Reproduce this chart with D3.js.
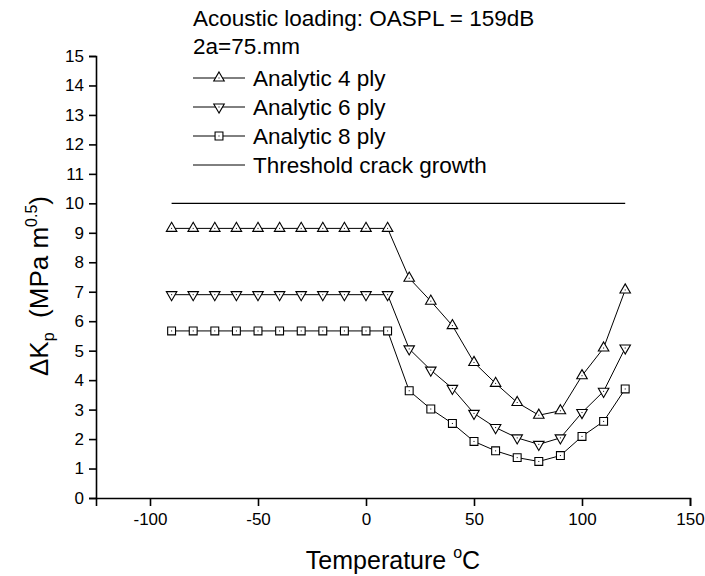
<!DOCTYPE html>
<html>
<head>
<meta charset="utf-8">
<script src="https://cdn.jsdelivr.net/npm/d3@7"></script>
<style>
	body { margin: 0; background: #fff; }
	svg { display: block; font-family: Arial, "Liberation Sans", sans-serif; }
</style>
</head>
<body>
<div id="chart"></div>
<script>

// DATA

const temps = [-90, -80, -70, -60, -50, -40, -30, -20, -10, 0, 10, 20, 30, 40, 50, 60, 70, 80, 90, 100, 110, 120];

const ply4 = [9.15, 9.15, 9.15, 9.15, 9.15, 9.15, 9.15, 9.15, 9.15, 9.15, 9.15, 7.46, 6.68, 5.85, 4.60, 3.89, 3.24, 2.81, 2.96, 4.15, 5.09, 7.06],
			ply6 = [6.90, 6.90, 6.90, 6.90, 6.90, 6.90, 6.90, 6.90, 6.90, 6.90, 6.90, 5.06, 4.34, 3.72, 2.87, 2.39, 2.04, 1.82, 2.04, 2.90, 3.62, 5.09],
			ply8 = [5.67, 5.67, 5.67, 5.67, 5.67, 5.67, 5.67, 5.67, 5.67, 5.67, 5.67, 3.64, 3.02, 2.53, 1.92, 1.60, 1.37, 1.24, 1.44, 2.09, 2.60, 3.70];

const thresholdTemps = [-90, 120],
			thresholdValues = [10, 10];

const xTicks = [-100, -50, 0, 50, 100, 150],
			yTicks = [0, 1, 2, 3, 4, 5, 6, 7, 8, 9, 10, 11, 12, 13, 14, 15];

const seriesNames = ['Analytic 4 ply', 'Analytic 6 ply', 'Analytic 8 ply'],
			headerLines = ['Acoustic loading: OASPL = 159dB', '2a=75.mm'];

// GRAPH

const width = 705,
			height = 576,
			margin = { top: 56, right: 15, bottom: 78, left: 96 };

const x = d3.scaleLinear().domain([-125, 150]).range([margin.left, width - margin.right]),
			y = d3.scaleLinear().domain([0, 15]).range([height - margin.bottom, margin.top]);

const svg = d3.select('#chart')
	.append('svg')
	.attr('width', width)
	.attr('height', height);

// axes
const xAxis = svg.append('g')
	.attr('transform', `translate(0,${y(0)})`);

xAxis.call(
	d3.axisBottom(x)
		.tickValues(d3.range(-125, 151, 25))
		.tickFormat('')
		.tickSizeOuter(0)
		.tickSize(5)
);

xAxis.call(
	d3.axisBottom(x)
		.tickValues(xTicks)
		.tickFormat(d => String(d))
		.tickSizeOuter(0)
		.tickSize(8)
		.tickPadding(7)
);

const yAxis = svg.append('g')
	.attr('transform', `translate(${x(-125)},0)`);

yAxis.call(
	d3.axisLeft(y)
		.tickValues(d3.range(0, 15.01, 0.5))
		.tickFormat('')
		.tickSizeOuter(0)
		.tickSize(4)
);

yAxis.call(
	d3.axisLeft(y)
		.tickValues(yTicks)
		.tickFormat(d => String(d))
		.tickSizeOuter(0)
		.tickSize(7)
		.tickPadding(5)
);

svg.selectAll('.domain, .tick line')
	.attr('stroke', '#000')
	.attr('stroke-width', 1.6);

svg.selectAll('.tick text')
	.attr('fill', '#000')
	.style('font-size', '17px');

// axis titles
const xTitle = svg.append('text')
	.attr('x', (x.range()[0] + x.range()[1]) / 2)
	.attr('y', 569)
	.attr('text-anchor', 'middle')
	.style('font-size', '25px');

xTitle.append('tspan').text('Temperature ');
xTitle.append('tspan').attr('dy', -11).style('font-size', '16px').text('o');
xTitle.append('tspan').attr('dy', 11).text('C');

const yTitle = svg.append('text')
	.attr('transform', 'translate(48,286) rotate(-90)')
	.attr('text-anchor', 'middle')
	.attr('xml:space', 'preserve')
	.style('font-size', '26px');

yTitle.append('tspan').text('ΔK');
yTitle.append('tspan').attr('dy', 6).style('font-size', '16px').text('p');
yTitle.append('tspan').attr('dy', -6).text('  (MPa m');
yTitle.append('tspan').attr('dy', -11).style('font-size', '16px').text('0.5');
yTitle.append('tspan').attr('dy', 11).text(')');

// markers
const symbols = [
	{ type: d3.symbolTriangle, rotate: 0, size: 48 },
	{ type: d3.symbolTriangle, rotate: 180, size: 48 },
	{ type: d3.symbolSquare, rotate: 0, size: 62 }
];

const drawMarker = (g, s) => {
	g.append('path')
		.attr('d', d3.symbol().type(s.type).size(s.size)())
		.attr('transform', `rotate(${s.rotate})`)
		.attr('fill', '#fff')
		.attr('stroke', '#000')
		.attr('stroke-width', 1.1);
	g.append('rect')
		.attr('x', -0.5)
		.attr('y', -0.5)
		.attr('width', 1)
		.attr('height', 1)
		.attr('fill', '#000');
};

const line = d3.line()
	.x(d => x(d[0]))
	.y(d => y(d[1]));

const series = [ply4, ply6, ply8];

series.forEach((values, i) => {

	const pts = d3.zip(temps, values);

	svg.append('path')
		.datum(pts)
		.attr('d', line)
		.attr('fill', 'none')
		.attr('stroke', '#000')
		.attr('stroke-width', 1);

	svg.append('g')
		.selectAll('g')
		.data(pts)
		.join('g')
		.attr('transform', d => `translate(${x(d[0])},${y(d[1])})`)
		.each(function () { drawMarker(d3.select(this), symbols[i]); });

});

// threshold
svg.append('path')
	.datum(d3.zip(thresholdTemps, thresholdValues))
	.attr('d', line)
	.attr('fill', 'none')
	.attr('stroke', '#000')
	.attr('stroke-width', 1.2);

// legend
const legendX = 193,
			legendW = 52,
			rowBase = [26, 54, 86, 115, 144, 173];

headerLines.forEach((t, i) => {
	svg.append('text')
		.attr('x', legendX)
		.attr('y', rowBase[i])
		.style('font-size', '22.5px')
		.text(t);
});

const legendItems = seriesNames.concat(['Threshold crack growth']);

legendItems.forEach((t, i) => {

	const base = rowBase[i + 2],
				cy = base - 8;

	svg.append('line')
		.attr('x1', legendX)
		.attr('x2', legendX + legendW)
		.attr('y1', cy)
		.attr('y2', cy)
		.attr('stroke', '#000')
		.attr('stroke-width', 1);

	if (i < 3) {
		const g = svg.append('g').attr('transform', `translate(${legendX + legendW / 2},${cy})`);
		drawMarker(g, symbols[i]);
	}

	svg.append('text')
		.attr('x', legendX + legendW + 8)
		.attr('y', base)
		.style('font-size', '22.5px')
		.text(t);

});

</script>
</body>
</html>
